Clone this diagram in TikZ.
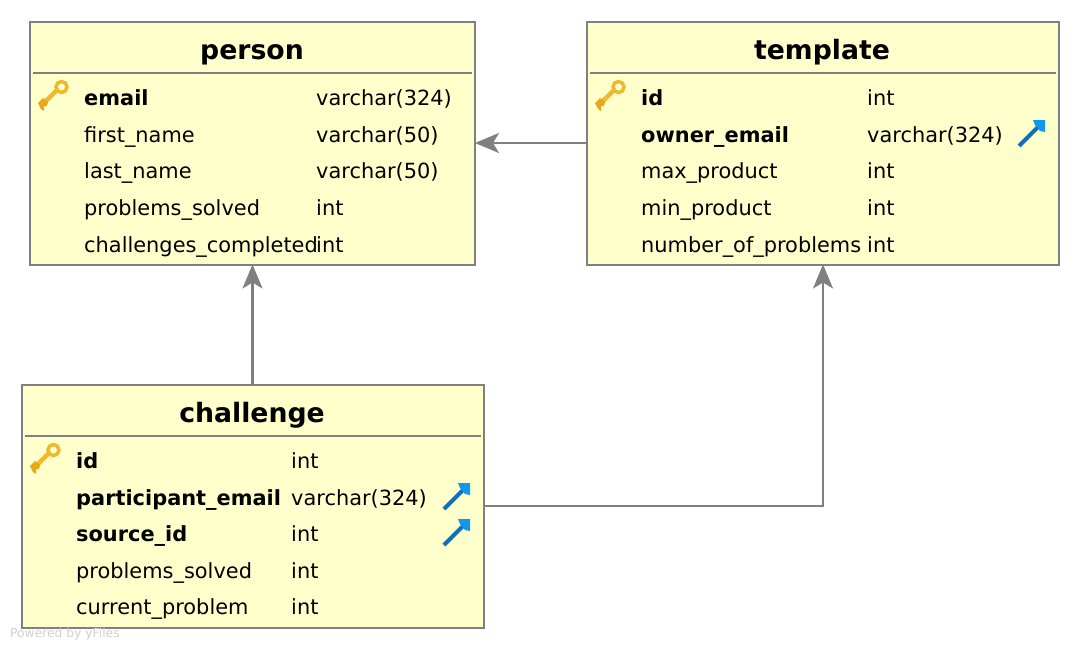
\documentclass[tikz,border=0pt]{standalone}
\usepackage{fontspec}
\setmainfont{DejaVu Sans}
\usetikzlibrary{arrows.meta}
\definecolor{boxfill}{HTML}{FFFFCC}
\definecolor{edgegray}{HTML}{808080}
\definecolor{keygold}{HTML}{EDB92E}
\definecolor{keydark}{HTML}{E8A818}
\definecolor{fkblue}{HTML}{0F72B8}
\definecolor{fkhead}{HTML}{1298E8}
\tikzset{
  tablebox/.style={draw=edgegray,fill=boxfill,line width=2pt,inner sep=0pt,outer sep=0pt,minimum width=#1,minimum height=243pt},
  titletext/.style={anchor=base,font=\fontsize{26.7}{30}\selectfont\bfseries,text=black,inner sep=0pt},
  cell/.style={anchor=base west,font=\fontsize{20.9}{24}\selectfont,text=black,inner sep=0pt},
  cellbold/.style={cell,font=\fontsize{20.9}{24}\selectfont\bfseries},
  rule/.style={draw=edgegray,line width=2pt},
  link/.style={draw=edgegray,line width=2.2pt,-{Stealth[length=24pt,width=20pt,inset=6pt]}},
  pics/pkkey/.style={code={
    \draw[keygold,line width=4.5pt,line cap=round] (-10,8) -- (4,-6);
    \draw[keygold,line width=3.5pt] (8.5,-9) circle (5.5pt);
    \fill[keydark] (-15,7) -- (-10,2) -- (-5,6) -- (-6,10) -- (-9,10) -- (-9,15) -- (-12,13) -- cycle;
  }},
  pics/fkarrow/.style={code={
    \draw[fkblue,line width=4pt] (-13,13) -- (8,-8);
    \fill[fkhead] (1,-13) -- (13,-13) -- (13,-1) -- (8,-2) -- (3,-8) -- cycle;
  }},
}
\begin{document}
\begin{tikzpicture}[x=1pt,y=-1pt]
\useasboundingbox (0,0) rectangle (1080,649);
\fill[white] (0,0) rectangle (1080,649);
% tables
\node[tablebox=445pt] (person) at (252.5,143) {};
\node[tablebox=472pt] (template) at (823,143) {};
\node[tablebox=462pt] (challenge) at (252.5,506) {};
% connectors
\coordinate (bend) at (template.south |- challenge.east);
\draw[link] (template.west) -- (person.east);
\draw[link] (challenge.north) -- (person.south);
\draw[link] (challenge.east) -- (bend) -- (template.south);
% header rules
\draw[rule] (33,72.5) -- (472,72.5);
\draw[rule] (590,72.5) -- (1056,72.5);
\draw[rule] (25,435.5) -- (481,435.5);
% titles
\node[titletext] (tperson) at (252,59) {person};
\node[titletext] (ttemplate) at (822,59) {template};
\node[titletext] (tchallenge) at (252,422) {challenge};
% person
\pic at (53,96) {pkkey};
\node[cellbold] (p1) at (84,105) {email};
\node[cell] (p1t) at (316,105) {varchar(324)};
\node[cell] (p2) at (84,142) {first\_name};
\node[cell] (p2t) at (316,142) {varchar(50)};
\node[cell] (p3) at (84,178) {last\_name};
\node[cell] (p3t) at (316,178) {varchar(50)};
\node[cell] (p4) at (84,215) {problems\_solved};
\node[cell] (p4t) at (316,215) {int};
\node[cell] (p5) at (84,252) {challenges\_completed};
\node[cell] (p5t) at (316,252) {int};
% template
\pic at (610,96) {pkkey};
\node[cellbold] (t1) at (641,105) {id};
\node[cell] (t1t) at (867,105) {int};
\node[cellbold] (t2) at (641,142) {owner\_email};
\node[cell] (t2t) at (867,142) {varchar(324)};
\pic at (1032,133) {fkarrow};
\node[cell] (t3) at (641,178) {max\_product};
\node[cell] (t3t) at (867,178) {int};
\node[cell] (t4) at (641,215) {min\_product};
\node[cell] (t4t) at (867,215) {int};
\node[cell] (t5) at (641,252) {number\_of\_problems};
\node[cell] (t5t) at (867,252) {int};
% challenge
\pic at (45,459) {pkkey};
\node[cellbold] (c1) at (76,468) {id};
\node[cell] (c1t) at (291,468) {int};
\node[cellbold] (c2) at (76,505) {participant\_email};
\node[cell] (c2t) at (291,505) {varchar(324)};
\pic at (457,496) {fkarrow};
\node[cellbold] (c3) at (76,541) {source\_id};
\node[cell] (c3t) at (291,541) {int};
\pic at (457,532) {fkarrow};
\node[cell] (c4) at (76,578) {problems\_solved};
\node[cell] (c4t) at (291,578) {int};
\node[cell] (c5) at (76,614) {current\_problem};
\node[cell] (c5t) at (291,614) {int};
% watermark
\node[anchor=base west,inner sep=0pt,font=\fontsize{12.3}{14}\selectfont,text=black!18] (wm) at (10,637) {Powered by yFiles};
\end{tikzpicture}
\end{document}
